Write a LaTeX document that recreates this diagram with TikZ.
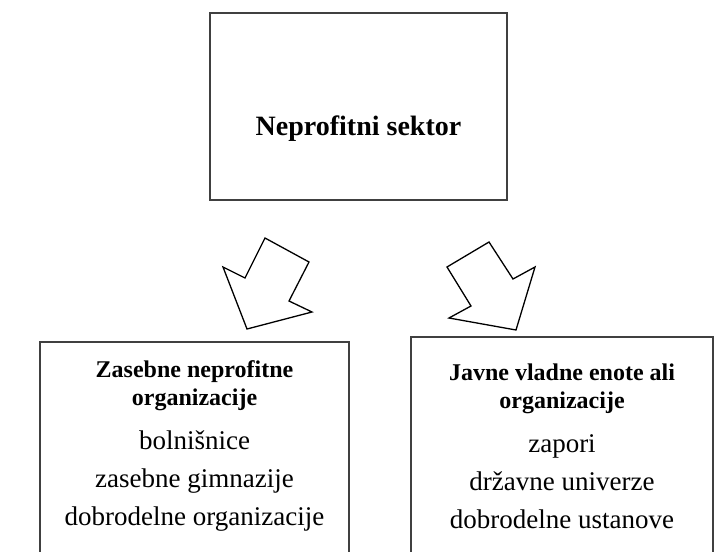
\documentclass[tikz,border=0pt]{standalone}
\usepackage{fontspec}
\setmainfont{Liberation Serif}
\definecolor{boxgray}{HTML}{404040}
\begin{document}
\begin{tikzpicture}[x=1pt,y=-1pt,
  box/.style={draw=boxgray, line width=2pt},
  blockarrow/.style={draw=black, line width=1.3pt, fill=white, line join=miter},
  titletext/.style={font=\fontsize{28}{32}\selectfont\bfseries, inner sep=0pt, anchor=base},
  heading/.style={font=\fontsize{24}{28}\selectfont\bfseries, inner sep=0pt, anchor=base},
  item/.style={font=\fontsize{27}{30}\selectfont, inner sep=0pt, anchor=base}]
\useasboundingbox (0,0) rectangle (727,551);
\clip (0,0) rectangle (727,551);
\fill[white] (0,0) rectangle (727,551);

% top box
\draw[box] (210,13) rectangle (507,200);
\node[titletext] (sector) at (358.5,135) {Neprofitni sektor};

% block arrows
\draw[blockarrow] (265,238) -- (309,262) -- (289,301) -- (312,312)
  -- (247,329) -- (223,267) -- (245,278) -- cycle;
\draw[blockarrow] (489,242) -- (513,279) -- (535,267) -- (516,330)
  -- (449,318) -- (471,306) -- (447,267) -- cycle;

% private organisations
\draw[box] (40,342) rectangle (349,600);
\node[heading] (privheadA) at (194.5,377) {Zasebne neprofitne};
\node[heading] (privheadB) at (194.5,405) {organizacije};
\node[item] (priv1) at (194.5,449) {bolnišnice};
\node[item] (priv2) at (194.5,487) {zasebne gimnazije};
\node[item] (priv3) at (194.5,525) {dobrodelne organizacije};

% public organisations
\draw[box] (411,337) rectangle (713,600);
\node[heading] (pubheadA) at (562,380) {Javne vladne enote ali};
\node[heading] (pubheadB) at (562,408) {organizacije};
\node[item] (pub1) at (562,452) {zapori};
\node[item] (pub2) at (562,490) {državne univerze};
\node[item] (pub3) at (562,528) {dobrodelne ustanove};
\end{tikzpicture}
\end{document}
